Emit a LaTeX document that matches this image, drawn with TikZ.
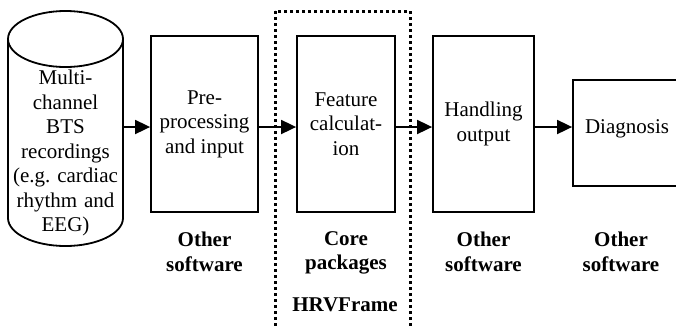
\documentclass[tikz,border=0pt]{standalone}
\usepackage{fontspec}
\setmainfont{Liberation Serif}
\usetikzlibrary{arrows.meta}
\newcommand{\bodyfont}{\fontsize{21}{24.5}\selectfont}
\begin{document}
\begin{tikzpicture}[x=1pt,y=-1pt,
  stage/.style={draw,line width=1.8pt,align=center,inner sep=2pt,font=\bodyfont},
  flow/.style={line width=1.8pt,-{Triangle[length=15pt,width=14pt]}},
  tag/.style={align=center,font=\bodyfont\bfseries},
  hrvline/.style={line width=3pt,dash pattern=on 3pt off 3pt}]
  \useasboundingbox (0,0) rectangle (676,325);

  % Recordings drum
  \draw[line width=1.8pt] (8,39) -- (8,218) arc[start angle=180,end angle=360,x radius=57.5pt,y radius=28pt] -- (123,39);
  \draw[line width=1.8pt] (65.5,39) ellipse[x radius=57.5pt,y radius=28pt];
  \node[align=center,font=\bodyfont,text width=111pt,inner sep=2pt] (rec) at (65.5,153) {Multi-\\channel\\BTS\\recordings\\(e.g.\ cardiac\\rhythm and\\EEG)};

  % Processing stages
  \node[stage,minimum width=107,minimum height=176] (pre) at (204.5,124) {Pre-\\processing\\and input};
  \node[stage,minimum width=98,minimum height=176] (feat) at (346,124) {Feature\\calculat-\\ion};
  \node[stage,minimum width=101,minimum height=176] (hand) at (483.5,124) {Handling\\output};
  \node[stage,minimum width=108,minimum height=106,text depth=12.5pt] (diag) at (627,133) {Diagnosis};

  % Frame round the core
  \draw[hrvline] (275,11) rectangle (410,335);

  % Arrows
  \coordinate (lane) at (0,127);
  \draw[flow] (rec.east |- lane) -- (pre.west |- lane);
  \draw[flow] (pre.east |- lane) -- (feat.west |- lane);
  \draw[flow] (feat.east |- lane) -- (hand.west |- lane);
  \draw[flow] (hand.east |- lane) -- (diag.west |- lane);

  % Add labels
  \node[tag] (swpre) at (204.5,252) {Other\\software};
  \node[tag] (core) at (346,253) {Core\\packages};
  \node[tag] (swhand) at (483.5,252) {Other\\software};
  \node[tag] (swdiag) at (621,252) {Other\\software};
  \node[tag] (hrv) at (345,305) {HRVFrame};
\end{tikzpicture}
\end{document}
